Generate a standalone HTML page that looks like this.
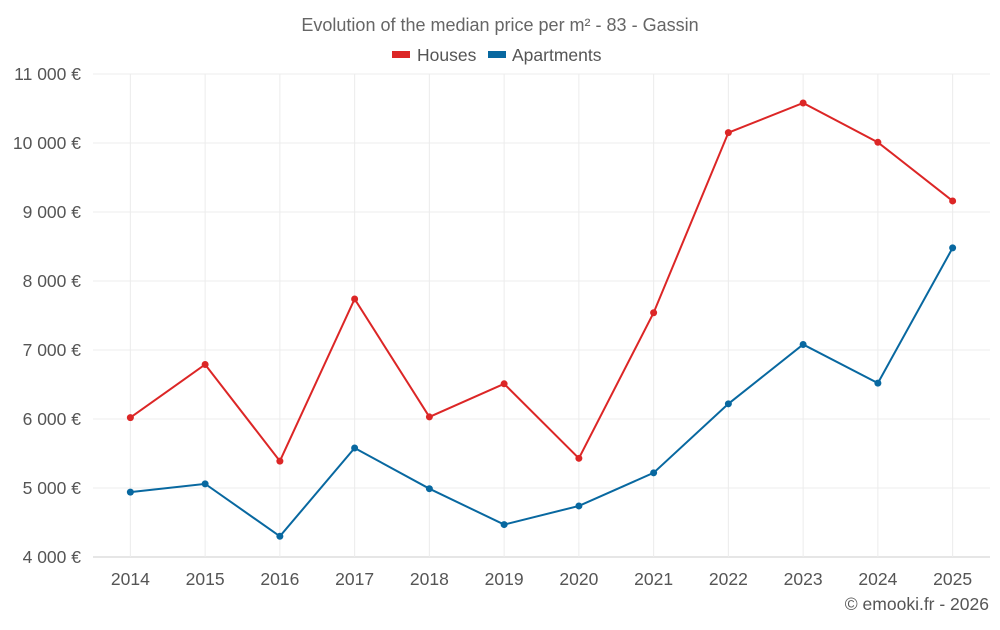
<!DOCTYPE html>
<html><head><meta charset="utf-8"><style>
body{margin:0;background:#fff;font-family:"Liberation Sans",Roboto,sans-serif;}
svg text{font-family:"Liberation Sans",sans-serif;}
</style></head><body>
<svg id="chart" width="1000" height="625" xmlns="http://www.w3.org/2000/svg">
<text x="500" y="31" text-anchor="middle" font-size="18" fill="#666">Evolution of the median price per m² - 83 - Gassin</text>
<g>
<rect x="392" y="51" width="18" height="7" fill="#dc2626"/>
<text x="417" y="61" font-size="17.5" fill="#555">Houses</text>
<rect x="488" y="51" width="18" height="7" fill="#0868a0"/>
<text x="512" y="61" font-size="17.5" fill="#555">Apartments</text>
</g>
<g id="grid"></g><g id="axes"></g><g id="series"></g>
<text x="989" y="610" text-anchor="end" font-size="17.5" fill="#555">© emooki.fr - 2026</text>
</svg>
<script>
const years=["2014","2015","2016","2017","2018","2019","2020","2021","2022","2023","2024","2025"];
const houses=[6020,6790,5390,7740,6030,6510,5430,7540,10150,10580,10010,9160];
const apartments=[4940,5060,4300,5580,4990,4470,4740,5220,6220,7080,6520,8480];
const yTicks=[4000,5000,6000,7000,8000,9000,10000,11000];
const L=93,R=990,T=74,B=557,yMin=4000,yMax=11000;
const bw=(R-L)/years.length;
const xs=i=>L+bw*(i+0.5);
const ys=v=>B-(v-yMin)/(yMax-yMin)*(B-T);
const NS="http://www.w3.org/2000/svg";
function mk(tag,attrs,parent){const e=document.createElementNS(NS,tag);for(const k in attrs)e.setAttribute(k,attrs[k]);document.getElementById(parent).appendChild(e);return e;}
const fmt=v=>String(v).replace(/\B(?=(\d{3})+(?!\d))/g," ")+" €";
yTicks.forEach(v=>{
 const g=mk("line",{x1:L,x2:R,y1:ys(v),y2:ys(v),stroke:v===yMin?"#ccc":"#ececec"},"grid");
 
 
 const t=mk("text",{x:81,y:ys(v)+6,"text-anchor":"end","font-size":"17.5",fill:"#555"},"axes");
 t.textContent=fmt(v);
 
 
});
years.forEach((y,i)=>{
 const g=mk("line",{x1:xs(i),x2:xs(i),y1:T,y2:B,stroke:"#ececec"},"grid");
 
 
 const t=mk("text",{x:xs(i),y:585,"text-anchor":"middle","font-size":"17.5",fill:"#555"},"axes");
 t.textContent=y;
 
 
});
function series(vals,color,name){
 const p=mk("polyline",{points:vals.map((v,i)=>xs(i)+","+ys(v)).join(" "),fill:"none",stroke:color,"stroke-width":"2"},"series");
 
 
 vals.forEach((v,i)=>{
  const c=mk("circle",{cx:xs(i),cy:ys(v),r:"3.5",fill:color},"series");
  
  
 });
}
series(houses,"#dc2626","houses");
series(apartments,"#0868a0","apartments");
</script>
</body></html>
